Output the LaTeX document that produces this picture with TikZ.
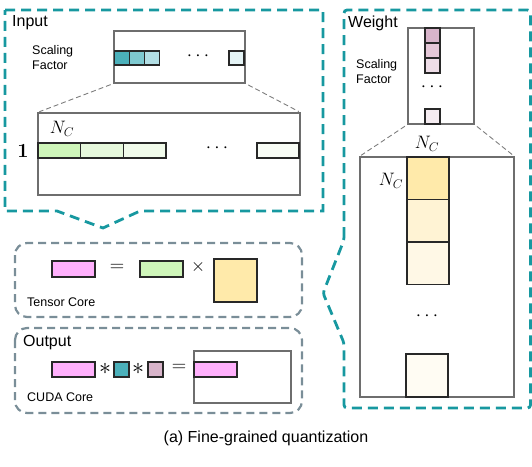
\RequirePackage{fix-cm}
\documentclass[tikz,border=0pt]{standalone}
\usepackage[no-math]{fontspec}
\setmainfont{Liberation Sans}
\definecolor{tealB}{RGB}{23,152,160}
\definecolor{grayD}{RGB}{122,142,152}
\definecolor{boxG}{RGB}{110,110,110}
\definecolor{cellL}{RGB}{40,40,40}
\definecolor{tA}{RGB}{75,176,186}
\definecolor{tB}{RGB}{126,201,208}
\definecolor{tC}{RGB}{178,222,228}
\definecolor{tD}{RGB}{228,243,245}
\definecolor{gA}{RGB}{207,246,186}
\definecolor{gB}{RGB}{230,248,220}
\definecolor{gC}{RGB}{241,251,235}
\definecolor{gD}{RGB}{249,253,246}
\definecolor{pA}{RGB}{216,180,202}
\definecolor{pB}{RGB}{229,200,216}
\definecolor{pC}{RGB}{238,221,231}
\definecolor{pD}{RGB}{245,236,241}
\definecolor{yA}{RGB}{255,234,170}
\definecolor{yB}{RGB}{255,243,212}
\definecolor{yC}{RGB}{255,248,230}
\definecolor{yD}{RGB}{255,252,243}
\definecolor{mag}{RGB}{255,176,252}
\tikzset{
  tealdash/.style={draw=tealB, line width=2.8pt, dash pattern=on 10pt off 6pt},
  graydash/.style={draw=grayD, line width=2.2pt, dash pattern=on 8pt off 5pt, rounded corners=12pt},
  outerbox/.style={draw=boxG, line width=1.1pt, fill=white, inner sep=0pt, rectangle},
  cellbox/.style={draw=cellL, line width=1.5pt, inner sep=0pt, rectangle},
  zoomline/.style={draw=boxG!90, line width=0.9pt, dash pattern=on 5pt off 3pt},
  lbl/.style={font=\fontsize{16}{19}\selectfont, inner sep=0pt, anchor=west},
  sml/.style={font=\fontsize{12.5}{15}\selectfont, inner sep=0pt, anchor=west, align=left},
  mth/.style={font=\fontsize{17}{20}\selectfont, inner sep=0pt},
  dotsty/.style={font=\fontsize{19}{22}\selectfont, inner sep=0pt},
}
\begin{document}
\begin{tikzpicture}[x=1pt,y=-1pt]
\useasboundingbox (0,0) rectangle (532,466);
% ---------- Input ----------
\draw[tealdash] (5,10) -- (323,10) -- (323,211) -- (140,211) -- (103,228) -- (57,211) -- (5,211) -- cycle;
\node[lbl] (inlbl) at (12,23) {Input};
\node[sml] (insf) at (32,57.5) {Scaling\\Factor};
\node[outerbox, minimum width=131pt, minimum height=52pt] (inscale) at (179.5,57) {};
\node[cellbox, fill=tA, minimum width=15pt, minimum height=14pt] (ta) at (122,58) {};
\node[cellbox, fill=tB, minimum width=15pt, minimum height=14pt] (tb) at (137,58) {};
\node[cellbox, fill=tC, minimum width=15pt, minimum height=14pt] (tc) at (152,58) {};
\node[cellbox, fill=tD, minimum width=15pt, minimum height=14pt] (td) at (236.5,58) {};
\node[dotsty] (tdots) at (198,56) {$\cdots$};
\node[outerbox, minimum width=262pt, minimum height=82pt] (inbox) at (169,154) {};
\draw[zoomline, shorten <=3pt, shorten >=2pt] (inscale.south west) -- (inbox.north west);
\draw[zoomline, shorten <=3pt, shorten >=2pt] (inscale.south east) -- (inbox.north east);
\node[cellbox, fill=gA, minimum width=42.7pt, minimum height=15pt] (ga) at (59.3,150.5) {};
\node[cellbox, fill=gB, minimum width=42.7pt, minimum height=15pt] (gb) at (102,150.5) {};
\node[cellbox, fill=gC, minimum width=42.7pt, minimum height=15pt] (gc) at (144.7,150.5) {};
\node[cellbox, fill=gD, minimum width=42pt, minimum height=15pt] (gd) at (278,150.5) {};
\node[dotsty] (gdots) at (217,148) {$\cdots$};
\node[mth, font=\fontsize{18}{21}\selectfont] (nc1) at (62,129) {$N_C$};
\node[mth, font=\fontsize{20}{24}\selectfont] (one) at (23,151) {$\mathbf{1}$};
% ---------- Weight ----------
\draw[tealdash, rounded corners=3pt] (344,240) -- (344,10) -- (530.5,10) -- (530.5,408) -- (344,408) -- (344,343) -- (323,293) -- cycle;
\node[lbl] (wlbl) at (348,23) {Weight};
\node[sml] (wsf) at (356,71.5) {Scaling\\Factor};
\node[outerbox, minimum width=66pt, minimum height=96pt] (wscale) at (441,76) {};
\node[cellbox, fill=pA, minimum width=15pt, minimum height=15pt] (pa) at (432.5,35.5) {};
\node[cellbox, fill=pB, minimum width=15pt, minimum height=15pt] (pb) at (432.5,50.5) {};
\node[cellbox, fill=pC, minimum width=15pt, minimum height=15pt] (pc) at (432.5,65.5) {};
\node[cellbox, fill=pD, minimum width=15pt, minimum height=15pt] (pd) at (432.5,116.5) {};
\node[dotsty] (pdots) at (432,87) {$\cdots$};
\node[outerbox, minimum width=154pt, minimum height=240pt] (wbox) at (437,277) {};
\draw[zoomline, shorten <=3pt, shorten >=2pt] (wscale.south west) -- (wbox.north west);
\draw[zoomline, shorten <=3pt, shorten >=2pt] (wscale.south east) -- (wbox.north east);
\node[cellbox, fill=yA, minimum width=42pt, minimum height=42.5pt] (ya) at (428,178) {};
\node[cellbox, fill=yB, minimum width=42pt, minimum height=42.5pt] (yb) at (428,220.5) {};
\node[cellbox, fill=yC, minimum width=42pt, minimum height=42.5pt] (yc) at (428,263) {};
\node[cellbox, fill=yD, minimum width=42pt, minimum height=43pt] (yd) at (427,375.5) {};
\node[dotsty] (ydots) at (427,316) {$\cdots$};
\node[mth, font=\fontsize{18}{21}\selectfont] (nc2) at (427,144) {$N_C$};
\node[mth, font=\fontsize{18}{21}\selectfont] (nc3) at (391,181) {$N_C$};
% ---------- Tensor Core ----------
\draw[graydash] (15,243) rectangle (302,317);
\node[cellbox, fill=mag, minimum width=43pt, minimum height=16pt] (tm) at (73.5,269) {};
\node[mth, font=\fontsize{20}{24}\selectfont] (teq) at (117,268) {$=$};
\node[cellbox, fill=gA, minimum width=43pt, minimum height=16pt] (tg) at (161.5,269) {};
\node[mth, font=\fontsize{18}{22}\selectfont] (tx) at (198,267) {$\times$};
\node[cellbox, fill=yA, minimum width=43pt, minimum height=43pt] (ty) at (235.5,280.5) {};
\node[sml] (tclbl) at (27,302) {Tensor Core};
% ---------- Output ----------
\draw[graydash] (15,328) rectangle (302,413);
\node[lbl] (outlbl) at (23,343) {Output};
\node[cellbox, fill=mag, minimum width=43pt, minimum height=15pt] (om) at (73.5,369.5) {};
\node[mth, font=\fontsize{24}{28}\selectfont] (os1) at (105,369) {$\ast$};
\node[cellbox, fill=tA, minimum width=15pt, minimum height=15pt] (ot) at (121.5,369.5) {};
\node[mth, font=\fontsize{24}{28}\selectfont] (os2) at (138,369) {$\ast$};
\node[cellbox, fill=pA, minimum width=15pt, minimum height=15pt] (op) at (155.5,369.5) {};
\node[mth, font=\fontsize{20}{24}\selectfont] (oeq) at (179,368) {$=$};
\node[outerbox, minimum width=97pt, minimum height=52pt] (obox) at (242.5,377) {};
\node[cellbox, fill=mag, minimum width=43pt, minimum height=15pt, anchor=west] (om2) at (obox.west |- 0,369.5) {};
\node[sml] (cclbl) at (27,397) {CUDA Core};
% ---------- caption ----------
\node[font=\fontsize{16}{19}\selectfont, inner sep=0pt] (cap) at (266,438) {(a) Fine-grained quantization};
\end{tikzpicture}
\end{document}
